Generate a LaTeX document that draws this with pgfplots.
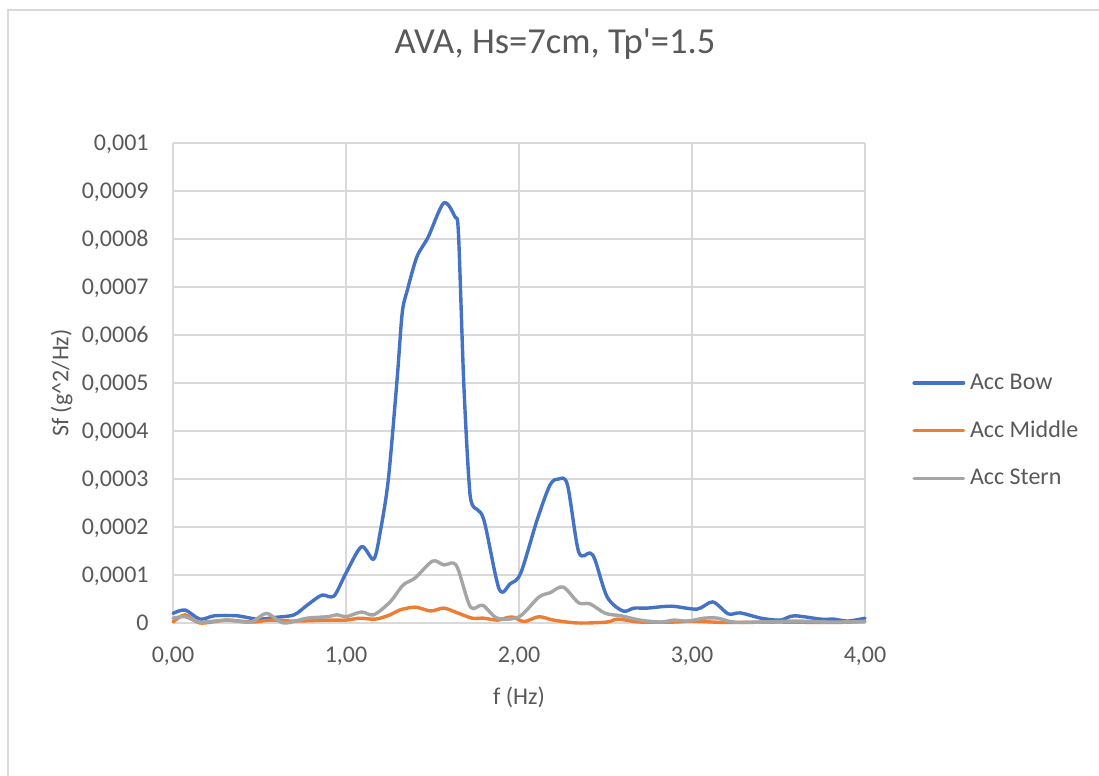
\documentclass[border=0pt]{standalone}
\usepackage{pgfplots}
\pgfplotsset{compat=1.18}
\usepackage{fontspec}
\setmainfont{Carlito}
\definecolor{bow}{RGB}{68,114,196}
\definecolor{mid}{RGB}{237,125,49}
\definecolor{stern}{RGB}{165,165,165}
\definecolor{gridc}{RGB}{217,217,217}
\definecolor{textc}{RGB}{89,89,89}
\begin{document}
\begin{tikzpicture}
\useasboundingbox (0,0) rectangle (549.5pt,388pt);
\fill[white] (0,0) rectangle (549.5pt,388pt);
\draw[line width=0.75pt, gridc] (4pt,0pt) -- (4pt,383pt) -- (549.5pt,383pt);
\begin{axis}[
  at={(86.5pt,76.5pt)}, anchor=south west,
  scale only axis, width=346pt, height=240pt,
  xmin=0, xmax=4, ymin=0, ymax=0.001,
  clip=false,
  axis line style={draw=none},
  major tick length=0pt,
  xtick={0,1,2,3,4},
  xticklabels={{0,00},{1,00},{2,00},{3,00},{4,00}},
  ytick={0,0.0001,0.0002,0.0003,0.0004,0.0005,0.0006,0.0007,0.0008,0.0009,0.001},
  yticklabels={0,{0,0001},{0,0002},{0,0003},{0,0004},{0,0005},{0,0006},{0,0007},{0,0008},{0,0009},{0,001}},
  scaled y ticks=false,
  grid=major,
  major grid style={gridc, line width=0.75pt},
  every tick label/.append style={font=\fontsize{12}{14}\selectfont, text=textc, inner sep=0pt},
  yticklabel style={anchor=base east, xshift=-12pt, yshift=-3.9pt},
  xticklabel style={anchor=base, yshift=-20pt},
  title={AVA, Hs=7cm, Tp\textquotesingle=1.5},
  title style={at={(axis description cs:0.552,1.1615)}, anchor=base, font=\fontsize{18.3}{22}\selectfont, text=textc, inner sep=0pt},
  xlabel={f (Hz)},
  xlabel style={at={(axis description cs:0.5,-0.1708)}, anchor=base, font=\fontsize{12}{14}\selectfont, text=textc, inner sep=0pt},
  ylabel={Sf (g\textasciicircum 2/Hz)},
  ylabel style={at={(axis description cs:-0.1513,0.5)}, anchor=base, font=\fontsize{12}{14}\selectfont, text=textc, inner sep=0pt},
  legend image code/.code={\draw[#1] (0.85pt,0pt) -- (25.6pt,0pt);},
  legend style={at={(axis description cs:1.0679,0.4006)}, anchor=west, draw=none, fill=none, inner sep=0pt,
    font=\fontsize{12}{14}\selectfont, text=textc, row sep=14.3pt, column sep=2.4pt,
    nodes={inner sep=0pt}, cells={anchor=west}},
  every axis plot/.append style={line width=1.7pt, line cap=round, line join=round, smooth, no markers},
]
\addplot[bow] coordinates {
(0.00,0.000020) (0.07,0.000027) (0.156,0.000008) (0.24,0.000015) (0.37,0.000015)
(0.49,0.000008) (0.60,0.000012) (0.70,0.000017) (0.775,0.000037) (0.86,0.000058)
(0.93,0.000056) (1.00,0.000104) (1.09,0.000159) (1.16,0.000133) (1.20,0.000194)
(1.245,0.000300) (1.295,0.000506) (1.325,0.000646) (1.355,0.000694) (1.41,0.000763)
(1.475,0.000804) (1.565,0.000875) (1.63,0.000846) (1.65,0.000812) (1.68,0.000506)
(1.71,0.000300) (1.73,0.000246) (1.795,0.000217) (1.885,0.000071) (1.95,0.000082)
(2.01,0.000104) (2.105,0.000215) (2.18,0.000288) (2.23,0.000300) (2.28,0.000288)
(2.345,0.000148) (2.41,0.000146) (2.44,0.000131) (2.51,0.000054) (2.60,0.000025)
(2.665,0.000031) (2.74,0.000031) (2.88,0.000035) (3.03,0.000029) (3.12,0.000044)
(3.21,0.000019) (3.28,0.000021) (3.40,0.000010) (3.51,0.000006) (3.59,0.000015)
(3.745,0.000008) (3.82,0.000008) (3.90,0.000004) (4.00,0.000010)
};
\addlegendentry{Acc Bow}
\addplot[mid] coordinates {
(0.00,0.000002) (0.07,0.000017) (0.156,0.000000) (0.31,0.000006) (0.46,0.000002)
(0.56,0.000006) (0.70,0.000004) (0.89,0.000006) (1.00,0.000006) (1.08,0.000010)
(1.17,0.000008) (1.255,0.000017) (1.31,0.000027) (1.40,0.000033) (1.49,0.000025)
(1.565,0.000031) (1.645,0.000021) (1.73,0.000010) (1.795,0.000010) (1.875,0.000006)
(1.93,0.000011) (1.97,0.000012) (2.03,0.000003) (2.115,0.000013) (2.20,0.000006)
(2.34,0.000000) (2.51,0.000002) (2.57,0.000008) (2.70,0.000002) (2.90,0.000002)
(3.00,0.000004) (3.20,0.000001) (3.50,0.000002) (3.80,0.000001) (4.00,0.000003)
};
\addlegendentry{Acc Middle}
\addplot[stern] coordinates {
(0.00,0.000010) (0.07,0.000013) (0.156,0.000002) (0.31,0.000006) (0.45,0.000002)
(0.54,0.000020) (0.64,0.000000) (0.775,0.000010) (0.89,0.000013) (0.95,0.000017)
(1.00,0.000013) (1.09,0.000023) (1.16,0.000017) (1.255,0.000044) (1.33,0.000079)
(1.40,0.000094) (1.50,0.000129) (1.565,0.000121) (1.62,0.000125) (1.65,0.000110)
(1.72,0.000033) (1.79,0.000037) (1.875,0.000010) (2.00,0.000013) (2.115,0.000054)
(2.18,0.000063) (2.255,0.000075) (2.345,0.000042) (2.41,0.000040) (2.50,0.000020)
(2.59,0.000015) (2.70,0.000006) (2.82,0.000002) (2.895,0.000006) (2.975,0.000004)
(3.07,0.000010) (3.15,0.000010) (3.24,0.000002) (3.40,0.000002) (3.60,0.000004)
(3.80,0.000002) (4.00,0.000003)
};
\addlegendentry{Acc Stern}
\end{axis}
\end{tikzpicture}
\end{document}
